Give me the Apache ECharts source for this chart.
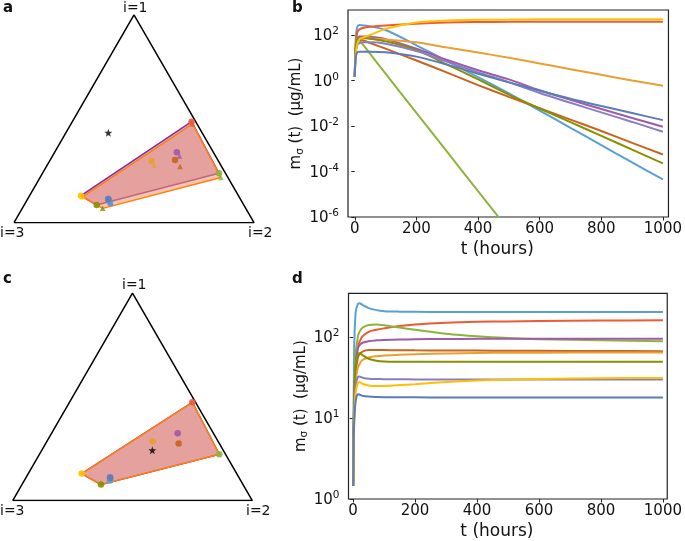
<!DOCTYPE html>
<html><head><meta charset="utf-8">
<script src="https://cdn.jsdelivr.net/npm/echarts@6/dist/echarts.min.js"></script>
<style>html,body{margin:0;padding:0;background:#fff}#chart{width:685px;height:541px}</style>
</head><body><div id="chart"></div>
<script>
// ---------- shared ----------
const names = ['lightBlue','red','yellowGreen','purple','brown','orange','olive','lavender','gold','steelBlue'];
const lineColors = ['#5aa0d2','#ee5a32','#8cb43c','#a05aaa','#c8641e','#e8a030','#879100','#8c7dc3','#ffc000','#5a7db9'];

// ---------- panel b : log10 of m (ug/mL) at times tB ----------
const tB = [0,3,8,15,30,50,100,200,300,400,500,600,700,800,900,1000];
const bLightBlue  = [0.16,1.8,2.35,2.44,2.42,2.38,2.22,1.55,0.85,0.15,-0.57,-1.32,-2.08,-2.84,-3.6,-4.35];
const bRed        = [0.16,1.5,2.1,2.25,2.32,2.36,2.42,2.5,2.55,2.57,2.58,2.58,2.58,2.58,2.58,2.58];
const bYellowGreen= [0.16,1.5,1.88,1.78,1.52,1.17,0.3,-1.42,-3.14,-4.86,-6.58,-8.3,-10.0,-11.7,-13.4,-15.1];
const bPurple     = [0.16,1.3,1.8,1.93,1.93,1.92,1.82,1.4,0.9,0.45,0.05,-0.43,-0.85,-1.25,-1.65,-2.03];
const bBrown      = [0.16,1.4,1.75,1.8,1.75,1.65,1.4,0.88,0.35,-0.2,-0.72,-1.22,-1.72,-2.22,-2.74,-3.25];
const bOrange     = [0.16,1.3,1.7,1.82,1.86,1.85,1.8,1.68,1.45,1.23,1.0,0.75,0.5,0.25,0.0,-0.23];
const bOlive      = [0.16,1.4,1.8,1.88,1.87,1.84,1.72,1.35,0.7,0.05,-0.62,-1.23,-1.83,-2.43,-3.04,-3.64];
const bLavender   = [0.16,1.2,1.55,1.65,1.68,1.68,1.62,1.3,0.82,0.36,-0.07,-0.55,-0.98,-1.4,-1.82,-2.25];
const bGold       = [0.16,1.1,1.6,1.82,1.9,2.0,2.27,2.55,2.64,2.67,2.68,2.69,2.69,2.69,2.69,2.69];
const bSteelBlue  = [0.16,1.0,1.25,1.27,1.27,1.27,1.24,1.05,0.7,0.3,-0.08,-0.45,-0.8,-1.12,-1.43,-1.74];
const bSeries = [bLightBlue,bRed,bYellowGreen,bPurple,bBrown,bOrange,bOlive,bLavender,bGold,bSteelBlue];

// ---------- panel d : m (ug/mL) at times tD ----------
const tD = [0,3,8,15,20,30,50,75,100,150,200,300,400,500,600,800,1000];
const dLightBlue  = [1.45,60,200,255,262,250,228,215,209,206,205,204,204,204,204,204,204];
const dRed        = [1.45,15,45,75,86,102,116,123,128,137,143,150,154,156,158,160,161];
const dYellowGreen= [1.45,20,60,100,115,130,141,143,140,131,123,110,102,97,94,91,89];
const dPurple     = [1.45,15,45,72,79,85,89,91,92,93,94,94.5,95,95,95,95,95];
const dBrown      = [1.45,12,35,55,61,66,69,69,69,68.8,68.5,68.2,68,67.8,67.5,67.2,67];
const dOrange     = [1.45,10,28,42,46,52,56,58,59,60.5,61.5,62.8,63.5,64,64.2,64.4,64.6];
const dOlive      = [1.45,15,45,62,63,60,54,51,50,49.6,49.5,49.5,49.5,49.5,49.5,49.5,49.5];
const dLavender   = [1.45,10,25,32,32.5,31.5,30.5,30.3,30.2,30.1,30,30,30,30,30,30,30];
const dGold       = [1.45,8,20,27,27.8,26.5,25.2,24.8,24.9,25.5,26.2,27.8,29,29.8,30.4,31,31.3];
const dSteelBlue  = [1.45,8,16,19.6,19.5,18.8,18.4,18.2,18.1,18,18,17.9,17.9,17.9,17.9,17.9,17.9];
const dSeries = [dLightBlue,dRed,dYellowGreen,dPurple,dBrown,dOrange,dOlive,dLavender,dGold,dSteelBlue];

// ---------- axis ticks ----------
const xTicks = [0,200,400,600,800,1000];
const bYTicks = [1e-6,1e-4,1e-2,1,1e2];
const dYTicks = [1,10,100];

// ---------- ternary compositions [i=1, i=2, i=3] ----------
const aCircles = [
  [0.100,0.350,0.550],[0.486,0.497,0.017],[0.2375,0.7354,0.027],[0.339,0.509,0.152],[0.302,0.520,0.178],
  [0.297,0.425,0.278],[0.085,0.302,0.613],[0.115,0.335,0.550],[0.130,0.214,0.656],[0.112,0.337,0.551]];
const aTriangles = [
  [0.093,0.358,0.549],[0.475,0.507,0.018],[0.218,0.753,0.029],[0.321,0.529,0.150],[0.270,0.557,0.173],
  [0.278,0.445,0.277],[0.069,0.335,0.596],[0.095,0.355,0.550],[0.1253,0.2235,0.651],[0.097,0.352,0.551]];
const aStar = [0.433,0.1765,0.390];
const cCircles = [
  [0.0963,0.358,0.546],[0.4738,0.5128,0.0134],[0.2233,0.7507,0.026],[0.3244,0.5263,0.149],[0.2746,0.5553,0.170],
  [0.2859,0.4412,0.273],[0.0771,0.330,0.593],[0.1124,0.3499,0.538],[0.1301,0.2229,0.647],[0.110,0.352,0.538]];
const cStar = [0.2425,0.4615,0.296];
const hullIdx = [8,1,2,6]; // gold, red, yellowGreen, olive
const corners = [[0,0,1],[0,1,0],[1,0,0],[0,0,1]];

// ---------- build ----------
const FONT = 'DejaVu Sans';
const S3 = Math.sqrt(3)/2;
function tern(p){ return [p[1] + p[0]/2, p[0]*S3]; }
const STAR = 'path://M0,-10L2.35,-3.24L9.51,-3.09L3.8,1.24L5.88,8.09L0,4L-5.88,8.09L-3.8,1.24L-9.51,-3.09L-2.35,-3.24Z';

function polygonSeries(gi, verts, fill, stroke){
  return {type:'custom', xAxisIndex:gi, yAxisIndex:gi, silent:true, clip:false, z:2,
    data:[verts[0]],
    renderItem:(params, api)=>({type:'polygon', shape:{points: verts.map(v=>api.coord(v))},
      style:{fill:fill, stroke:stroke, lineWidth:1.5, lineJoin:'round'}})};
}
function ternSeries(gi, circles, triangles, star, polys){
  const out = [];
  out.push({type:'line', xAxisIndex:gi, yAxisIndex:gi, silent:true, symbol:'none', z:1,
    data: corners.map(tern), lineStyle:{color:'#000', width:1.5}});
  polys.forEach(p=>out.push(polygonSeries(gi, hullIdx.map(i=>tern(p.pts[i])), p.fill, p.stroke)));
  if (triangles) out.push({type:'scatter', xAxisIndex:gi, yAxisIndex:gi, silent:true, z:4, symbol:'triangle', symbolSize:5.5,
    data: triangles.map((p,i)=>({value:tern(p), itemStyle:{color:lineColors[i]}}))});
  out.push({type:'scatter', xAxisIndex:gi, yAxisIndex:gi, silent:true, z:5, symbol:'circle', symbolSize:6.5,
    data: circles.map((p,i)=>({value:tern(p), itemStyle:{color:lineColors[i], opacity:0.9}}))});
  out.push({type:'scatter', xAxisIndex:gi, yAxisIndex:gi, silent:true, z:6, symbol:STAR, symbolSize:8,
    data:[tern(star)], itemStyle:{color:'#000'}});
  return out;
}
function lineSeries(gi, times, arrs, isLog10){
  return arrs.map((arr,i)=>({type:'line', name:names[i], xAxisIndex:gi, yAxisIndex:gi, silent:true,
    showSymbol:false, symbol:'none', smooth:0.3,
    data: times.map((t,k)=>[t, isLog10 ? Math.pow(10, arr[k]) : arr[k]]),
    lineStyle:{color:lineColors[i], width:2}, z:3}));
}
const supRich = {
  b:{fontFamily:FONT, fontSize:15, color:'#111', lineHeight:18, verticalAlign:'bottom'},
  s:{fontFamily:FONT, fontSize:10.5, color:'#111', lineHeight:8, verticalAlign:'top'}
};
function supFmt(v){ const e = Math.round(Math.log10(v)); return '{b|10}{s|' + (e<0?'-':'') + Math.abs(e) + '}'; }
const nameRich = {
  m:{fontFamily:FONT, fontSize:15, color:'#111', lineHeight:18},
  s:{fontFamily:FONT, fontSize:10.5, color:'#111', lineHeight:6, verticalAlign:'bottom'}
};
function valueX(gi, min, max){
  return {type:'value', gridIndex:gi, min:min, max:max, name:'t (hours)', nameLocation:'middle', nameGap:24,
    nameTextStyle:{fontFamily:FONT, fontSize:17, color:'#111', padding:[0,22,0,0]},
    axisLine:{show:false}, splitLine:{show:false},
    axisTick:{show:true, customValues:xTicks, length:3.5, lineStyle:{color:'#222', width:1}},
    axisLabel:{customValues:xTicks, formatter:v=>String(v), fontFamily:FONT, fontSize:15, color:'#111', margin:5}};
}
function logY(gi, min, max, ticks){
  return {type:'log', logBase:10, gridIndex:gi, min:min, max:max,
    name:'{m|m}{s|σ}{m| (t)  (μg/mL)}', nameLocation:'middle', nameGap:38, nameRotate:90,
    nameTextStyle:{rich:nameRich},
    axisLine:{show:false}, splitLine:{show:false},
    axisTick:{show:true, customValues:ticks, length:3.5, lineStyle:{color:'#222', width:1}},
    axisLabel:{customValues:ticks, formatter:supFmt, rich:supRich, margin:9}};
}
const hidden = (gi, max)=>({type:'value', gridIndex:gi, min:0, max:max, show:false});

const purpleFill = 'rgba(165,80,175,0.45)';
const orangeFill = 'rgba(240,150,110,0.55)';

const option = {
  animation:false,
  grid:[
    {left:14, top:14.9, width:240, height:207.8, show:false},
    {left:348, top:10, width:322, height:207, show:true, borderColor:'#222', borderWidth:1.2},
    {left:12.7, top:293.1, width:239.6, height:207.5, show:false},
    {left:348.5, top:293.3, width:321.5, height:208.4, show:true, borderColor:'#222', borderWidth:1.2}
  ],
  xAxis:[hidden(0,1), valueX(1,-22,1018), hidden(2,1), valueX(3,-15,1014)],
  yAxis:[hidden(0,S3), logY(1,1e-6,1260,bYTicks), hidden(2,S3), logY(3,1,347,dYTicks)],
  series:[].concat(
    ternSeries(0, aCircles, aTriangles, aStar, [
      {pts:aCircles, fill:purpleFill, stroke:'#8a2a96'},
      {pts:aTriangles, fill:orangeFill, stroke:'#ff7f0e'}]),
    ternSeries(2, cCircles, null, cStar, [
      {pts:cCircles, fill:purpleFill, stroke:'#8a2a96'},
      {pts:cCircles, fill:orangeFill, stroke:'#ff7f0e'}]),
    lineSeries(1, tB, bSeries, true),
    lineSeries(3, tD, dSeries, false)
  ),
  graphic:[
    {type:'text', left:3, top:1, style:{text:'a', font:'bold 15px "DejaVu Sans"', fill:'#111'}},
    {type:'text', left:292, top:1, style:{text:'b', font:'bold 15px "DejaVu Sans"', fill:'#111'}},
    {type:'text', left:3, top:272, style:{text:'c', font:'bold 15px "DejaVu Sans"', fill:'#111'}},
    {type:'text', left:292, top:272, style:{text:'d', font:'bold 15px "DejaVu Sans"', fill:'#111'}},
    {type:'text', left:123, top:1, style:{text:'i=1', font:'14px "DejaVu Sans"', fill:'#111'}},
    {type:'text', left:0, top:226, style:{text:'i=3', font:'14px "DejaVu Sans"', fill:'#111'}},
    {type:'text', left:248, top:226, style:{text:'i=2', font:'14px "DejaVu Sans"', fill:'#111'}},
    {type:'text', left:122, top:278, style:{text:'i=1', font:'14px "DejaVu Sans"', fill:'#111'}},
    {type:'text', left:0, top:504, style:{text:'i=3', font:'14px "DejaVu Sans"', fill:'#111'}},
    {type:'text', left:246, top:504, style:{text:'i=2', font:'14px "DejaVu Sans"', fill:'#111'}}
  ]
};
const chart = echarts.init(document.getElementById('chart'), null, {renderer:'canvas'});
chart.setOption(option);
</script>
</body></html>
